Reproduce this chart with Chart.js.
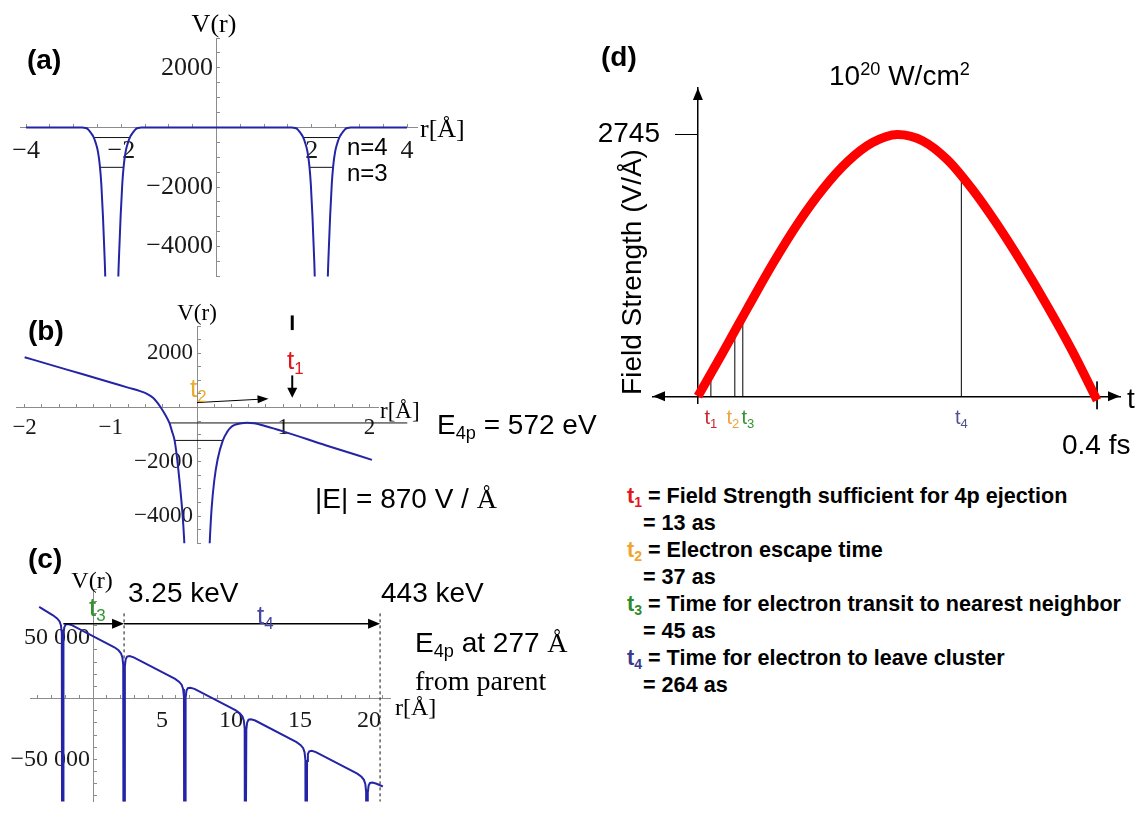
<!DOCTYPE html>
<html>
<head>
<meta charset="utf-8">
<title>Coulomb explosion timescales</title>
<script src="https://cdn.jsdelivr.net/npm/chart.js@4.4.1/dist/chart.umd.min.js"></script>
<style>
  html, body { margin: 0; padding: 0; background: #fff; }
  #page { position: relative; width: 1137px; height: 816px; overflow: hidden; background: #fff; }
  canvas { position: absolute; }
  .tx { position: absolute; white-space: nowrap; line-height: 1; color: #000; }
  .sans { font-family: 'Liberation Sans', Arial, sans-serif; }
  .serif { font-family: 'Liberation Serif', 'Times New Roman', serif; }
  .b { font-weight: bold; }
  sub, sup { line-height: 0; font-size: 0.65em; }
  sub { vertical-align: -0.28em; }
  sup { vertical-align: 0.55em; }
  #notes { position: absolute; left: 627px; top: 482px; font: bold 21.6px 'Liberation Sans', Arial, sans-serif; line-height: 27px; white-space: pre; color: #000; }
  #notes .cont { padding-left: 16px; }
  .c1 { color: #e3161e; } .c2 { color: #efa52c; } .c3 { color: #2c8c2c; } .c4 { color: #3a3a8c; }
</style>
</head>
<body>
<div id="page">
  <canvas id="cA" width="480" height="292" style="left:0;top:0"></canvas>
  <canvas id="cB" width="460" height="262" style="left:0;top:295px"></canvas>
  <canvas id="cC" width="480" height="268" style="left:0;top:548px"></canvas>
  <canvas id="cD" width="547" height="360" style="left:590px;top:60px"></canvas>

  <!-- (a) -->
  <div class="tx sans b" style="left:27px;top:46px;font-size:28px">(a)</div>
  <div class="tx serif" style="left:214px;top:11px;font-size:26px;transform:translateX(-50%)">V(r)</div>
  <div class="tx serif" style="left:420px;top:116px;font-size:26px">r[Å]</div>
  <div class="tx sans" style="left:347px;top:135px;font-size:24px">n=4</div>
  <div class="tx sans" style="left:347px;top:161px;font-size:24px">n=3</div>

  <!-- (b) -->
  <div class="tx sans b" style="left:28px;top:317px;font-size:28px">(b)</div>
  <div class="tx serif" style="left:197px;top:301px;font-size:23px;transform:translateX(-50%)">V(r)</div>
  <div class="tx serif" style="left:380px;top:399px;font-size:23px">r[Å]</div>
  <div class="tx sans" style="left:190px;top:375px;font-size:26px;color:#e6ad35">t<sub>2</sub></div>
  <div class="tx sans" style="left:287px;top:347px;font-size:26px;color:#e3161e">t<sub>1</sub></div>
  <div class="tx sans" style="left:437px;top:411px;font-size:28px">E<sub>4p</sub> = 572 eV</div>
  <div class="tx sans" style="left:315px;top:485px;font-size:28px">|E| = 870 V / <span class="serif">Å</span></div>

  <!-- (c) -->
  <div class="tx sans b" style="left:28px;top:545px;font-size:28px">(c)</div>
  <div class="tx serif" style="left:92px;top:568px;font-size:24px;transform:translateX(-50%)">V(r)</div>
  <div class="tx sans" style="left:89px;top:594px;font-size:26px;color:#2e962e">t<sub>3</sub></div>
  <div class="tx sans" style="left:128px;top:579px;font-size:28px">3.25 keV</div>
  <div class="tx sans" style="left:257px;top:602px;font-size:26px;color:#4646a0">t<sub>4</sub></div>
  <div class="tx sans" style="left:381px;top:579px;font-size:28px">443 keV</div>
  <div class="tx sans" style="left:415px;top:629px;font-size:28px">E<sub>4p</sub> at 277 <span class="serif">Å</span></div>
  <div class="tx serif" style="left:415px;top:667px;font-size:28px">from parent</div>
  <div class="tx serif" style="left:395px;top:695px;font-size:24px">r[Å]</div>

  <!-- (d) -->
  <div class="tx sans b" style="left:601px;top:43px;font-size:28px">(d)</div>
  <div class="tx sans" style="left:829px;top:62px;font-size:28px">10<sup>20</sup> W/cm<sup>2</sup></div>
  <div class="tx sans" style="left:632px;top:272px;font-size:28px;transform:translate(-50%,-50%) rotate(-90deg)">Field Strength (V/Å)</div>
  <div class="tx sans" style="left:1127px;top:385px;font-size:28px">t</div>
  <div class="tx sans" style="left:1062px;top:431px;font-size:28px">0.4 fs</div>
  <div id="dt0" class="tx sans" style="top:407px;font-size:20px;color:#c8282d">t<sub>1</sub></div>
  <div id="dt1" class="tx sans" style="top:407px;font-size:20px;color:#eba43a">t<sub>2</sub></div>
  <div id="dt2" class="tx sans" style="top:407px;font-size:20px;color:#2f942f">t<sub>3</sub></div>
  <div id="dt3" class="tx sans" style="top:407px;font-size:20px;color:#50508e">t<sub>4</sub></div>

  <div id="notes"><div><span class="c1">t<sub>1</sub></span> = Field Strength sufficient for 4p ejection</div><div class="cont">= 13 as</div><div><span class="c2">t<sub>2</sub></span> = Electron escape time</div><div class="cont">= 37 as</div><div><span class="c3">t<sub>3</sub></span> = Time for electron transit to nearest neighbor</div><div class="cont">= 45 as</div><div><span class="c4">t<sub>4</sub></span> = Time for electron to leave cluster</div><div class="cont">= 264 as</div></div>
</div>

<script>
// ---------- (a) two isolated atomic wells, V(r) in eV, r in Å ----------
const aR = [-4.0, -2.82, -2.75, -2.70, -2.64, -2.59, -2.54, -2.49, -2.45, -2.42, -2.385, -2.355, -2.335, -2.32,
            -2.08, -2.065, -2.045, -2.015, -1.98, -1.95, -1.91, -1.86, -1.81, -1.76, -1.70, -1.65, -1.58,
            1.58, 1.65, 1.70, 1.76, 1.81, 1.86, 1.91, 1.95, 1.98, 2.015, 2.045, 2.065, 2.08,
            2.32, 2.335, 2.355, 2.385, 2.42, 2.45, 2.49, 2.54, 2.59, 2.64, 2.70, 2.75, 2.82, 4.0];
const aV = [0, 0, -20, -60, -180, -300, -510, -820, -1300, -1900, -3000, -4200, -5200, -7000,
            -7000, -5200, -4200, -3000, -1900, -1300, -820, -510, -300, -180, -60, -20, 0,
            0, -20, -60, -180, -300, -510, -820, -1300, -1900, -3000, -4200, -5200, -7000,
            -7000, -5200, -4200, -3000, -1900, -1300, -820, -510, -300, -180, -60, -20, 0, 0];
const aWellCentres = [-2.2, 2.2];
const aLevelV = [-340, -1340];          // n=4, n=3
const aLevelHalfWidth = [0.37, 0.25];
const aXMajor = [-4, -2, 2, 4];
const aYMajor = [2000, -2000, -4000];

// ---------- (b) one well in a static field of 870 V/Å ----------
const bR = [-2.0, -1.5, -1.0, -0.8, -0.66, -0.58, -0.51, -0.46, -0.42, -0.37, -0.32, -0.29, -0.26, -0.23, -0.2, -0.17, -0.15, -0.13,
            0.13, 0.15, 0.17, 0.2, 0.24, 0.3, 0.35, 0.4, 0.45, 0.5, 0.58, 0.66, 0.8, 1.0, 1.5, 2.03];
const bV = [1850, 1385, 920, 730, 600, 500, 357, 180, 0, -260, -571, -880, -1214, -1900, -2800, -3850, -4800, -6200,
            -6200, -4800, -3700, -2700, -1900, -1214, -900, -714, -630, -590, -565, -580, -690, -880, -1400, -1930];
const bLevelV = [-571, -1214];          // E4p and the deeper level
const bLevelFrom = [-0.32, -0.26];
const bLevelTo = [2.44, 0.30];
const bXMajor = [-2, -1, 1, 2];
const bYMajor = [2000, -2000, -4000];

// ---------- (c) chain of neighbouring ions along the field ----------
const cR = [-3.9,
            -2.9, -2.6, -2.42, -2.32, -2.26, -2.23, -2.17, -2.14, -2.08, -1.98, -1.8, -1.5,
            1.55, 1.85, 2.03, 2.13, 2.19, 2.22, 2.28, 2.31, 2.37, 2.47, 2.65, 2.95,
            5.95, 6.25, 6.43, 6.53, 6.59, 6.62, 6.68, 6.71, 6.77, 6.87, 7.05, 7.35,
            10.35, 10.65, 10.83, 10.93, 10.99, 11.02, 11.08, 11.11, 11.17, 11.27, 11.45, 11.75,
            14.75, 15.05, 15.23, 15.33, 15.39, 15.42, 15.48, 15.51, 15.57, 15.67, 15.85, 16.15,
            19.15, 19.45, 19.63, 19.73, 19.79, 19.82, 19.88, 19.91, 19.97, 20.07, 20.25, 20.55,
            21.0];
const cV = [75300,
            68410, 65890, 63380, 59990, 53630, -250000, -250000, 52930, 58570, 60780, 61170, 60150,
            42155, 39635, 37120, 33730, 27380, -250000, -250000, 26670, 32320, 34530, 34915, 33895,
            16195, 13675, 11165, 7775, 1420, -250000, -250000, 710, 6355, 8565, 8955, 7935,
            -9765, -12285, -14800, -18190, -24540, -250000, -250000, -25250, -19600, -17390, -17005, -18025,
            -35725, -38245, -40760, -44150, -50500, -250000, -250000, -51210, -45560, -43350, -42965, -43985,
            -61685, -64205, -66720, -70110, -76460, -250000, -250000, -77170, -71520, -69310, -68925, -69945,
            -72200];
const cMarkR = [2.25, 20.8];            // nearest neighbour and cluster edge
const cXMajor = [5, 10, 15, 20];
const cYMajor = [50000, -50000];

// ---------- (d) field strength over the half cycle (t in as, E in V/Å) ----------
const dT = [0, 25, 50, 75, 100, 125, 150, 175, 200, 225, 250, 275, 300, 325, 350, 375, 400];
const dE = [0, 460, 930, 1390, 1810, 2170, 2460, 2660, 2745, 2680, 2480, 2170, 1800, 1390, 950, 480, -40];
const dPeak = 2745;
const markT = [13, 37, 45, 264];        // t1..t4
const markE = [240, 690, 840, 2310];
const markLabelNudge = [0, -2, 5, 0];

// ---------- helpers ----------
const AXIS_GRAY = '#8c8c8c';
const BLUE = '#2424a6';
const serifFont = size => ({ family: "'Liberation Serif', 'Times New Roman', serif", size });
const sansFont = size => ({ family: "'Liberation Sans', Arial, sans-serif", size });
const pts = (xs, ys) => xs.map((x, i) => ({ x, y: ys[i] }));
function tickList(lo, hi, step) {
  const out = [];
  for (let v = lo; v <= hi + 1e-9; v += step) out.push(Math.round(v * 1e4) / 1e4);
  return out;
}
const isMajor = (v, majors) => majors.some(m => Math.abs(m - v) < 1e-6);
const minus = v => (v < 0 ? '\u2212' : '') + Math.abs(v);
const grouped = v => (v < 0 ? '\u2212' : '') + String(Math.abs(v)).replace(/\B(?=(\d{3})+(?!\d))/g, ' ');

function arrowPlugin(list) {
  return {
    id: 'arrows',
    afterDatasetsDraw(chart) {
      const { ctx, scales: { x, y } } = chart;
      ctx.save();
      list.forEach(a => {
        const x1 = x.getPixelForValue(a.from[0]), y1 = y.getPixelForValue(a.from[1]);
        const x2 = x.getPixelForValue(a.to[0]), y2 = y.getPixelForValue(a.to[1]);
        const ang = Math.atan2(y2 - y1, x2 - x1);
        const hl = a.head ? a.head[0] : 0;
        ctx.strokeStyle = ctx.fillStyle = a.color || '#000';
        ctx.lineWidth = a.width || 1;
        ctx.beginPath();
        ctx.moveTo(x1, y1);
        ctx.lineTo(x2 - hl * 0.7 * Math.cos(ang), y2 - hl * 0.7 * Math.sin(ang));
        ctx.stroke();
        if (a.head) {
          const hw = a.head[1];
          const bx = x2 - hl * Math.cos(ang), by = y2 - hl * Math.sin(ang);
          ctx.beginPath();
          ctx.moveTo(x2, y2);
          ctx.lineTo(bx + hw * Math.sin(ang), by - hw * Math.cos(ang));
          ctx.lineTo(bx - hw * Math.sin(ang), by + hw * Math.cos(ang));
          ctx.closePath();
          ctx.fill();
        }
      });
      ctx.restore();
    }
  };
}

function curveSet(data, width, smooth) {
  const ds = { data, borderColor: BLUE, borderWidth: width, pointRadius: 0, tension: 0, xAxisID: 'x', yAxisID: 'y' };
  if (smooth) ds.cubicInterpolationMode = 'monotone';
  return ds;
}
function thinSet(data, extra) {
  return Object.assign({ data, borderColor: '#111', borderWidth: 1, pointRadius: 0, tension: 0, xAxisID: 'x', yAxisID: 'y' }, extra || {});
}

// Mathematica-style axes crossing at the origin
function potentialChart(id, o) {
  return new Chart(document.getElementById(id), {
    type: 'line',
    data: { datasets: o.datasets },
    options: {
      responsive: false, animation: false, events: [],
      layout: { padding: o.pad },
      plugins: { legend: { display: false }, tooltip: { enabled: false } },
      elements: { point: { radius: 0 } },
      scales: {
        x: {
          type: 'linear', min: o.x[0], max: o.x[1], position: { y: 0 },
          border: { color: AXIS_GRAY, width: 1 },
          grid: { drawOnChartArea: false, drawTicks: true, tickLength: -4, color: AXIS_GRAY },
          afterBuildTicks: s => { s.ticks = o.xTicks.map(v => ({ value: v })); },
          ticks: { autoSkip: false, maxRotation: 0, padding: o.xPad, font: serifFont(o.font), color: '#1a1a1a',
                   callback: v => isMajor(v, o.xMajor) ? minus(v) : '' }
        },
        y: {
          type: 'linear', min: o.y[0], max: o.y[1], position: { x: 0 },
          border: { color: AXIS_GRAY, width: 1 },
          grid: { drawOnChartArea: false, drawTicks: true, tickLength: -4, color: AXIS_GRAY },
          afterBuildTicks: s => { s.ticks = o.yTicks.map(v => ({ value: v })); },
          ticks: { display: false }
        },
        yl: {
          type: 'linear', min: o.y[0], max: o.y[1], position: { x: o.labelX },
          border: { display: false }, grid: { display: false, drawTicks: false },
          afterBuildTicks: s => { s.ticks = o.yMajor.map(v => ({ value: v })); },
          ticks: { autoSkip: false, padding: 0, font: serifFont(o.font), color: '#1a1a1a', callback: o.fmtY }
        }
      }
    },
    plugins: [arrowPlugin(o.arrows || [])]
  });
}

// ---------- (a) ----------
const aSets = [curveSet(pts(aR, aV), 2, true)];
aLevelV.forEach((v, i) => aWellCentres.forEach(c => {
  aSets.push(thinSet([{ x: c - aLevelHalfWidth[i], y: v }, { x: c + aLevelHalfWidth[i], y: v }]));
}));
potentialChart('cA', {
  datasets: aSets, pad: { left: 17, top: 38, right: 63, bottom: 6 },
  x: [-4.125, 4.21], y: [-5000, 3000], font: 26, xPad: 12, labelX: -0.075,
  xTicks: tickList(-4, 4, 0.5).filter(v => v !== 0), xMajor: aXMajor,
  yTicks: tickList(-5000, 3000, 500).filter(v => v !== 0), yMajor: aYMajor, fmtY: minus
});

// ---------- (b) ----------
const bSets = [curveSet(pts(bR, bV), 2, true)];
bLevelV.forEach((v, i) => bSets.push(thinSet([{ x: bLevelFrom[i], y: v }, { x: bLevelTo[i], y: v }], { clip: false })));
potentialChart('cB', {
  datasets: bSets, pad: { left: 16, top: 31, right: 82, bottom: 7 },
  x: [-2.1, 2.1], y: [-5000, 3000], font: 23, xPad: 11, labelX: -0.047,
  xTicks: tickList(-2, 2, 0.2).filter(v => v !== 0), xMajor: bXMajor,
  yTicks: tickList(-5000, 3000, 500).filter(v => v !== 0), yMajor: bYMajor, fmtY: minus,
  arrows: [
    { from: [0, 180], to: [0.83, 320], width: 1, head: [11, 4] },       // t2: escape
    { from: [1.105, 1180], to: [1.105, 357], width: 2, head: [10, 5] },  // t1
    { from: [1.105, 3390], to: [1.105, 2850], width: 3 }
  ]
});

// ---------- (c) ----------
const cSets = [curveSet(pts(cR, cV), 2, false)];
cMarkR.forEach(r => cSets.push(thinSet([{ x: r, y: 70000 }, { x: r, y: -90000 }], { borderDash: [3, 3] })));
potentialChart('cC', {
  datasets: cSets, pad: { left: 30, top: 41, right: 90, bottom: 0 },
  x: [-4.565, 21.52], y: [-84615, 90000], font: 24, xPad: 12, labelX: -0.22,
  xTicks: tickList(-4, 21, 1).filter(v => v !== 0), xMajor: cXMajor,
  yTicks: tickList(-80000, 90000, 10000).filter(v => v !== 0), yMajor: cYMajor, fmtY: grouped,
  arrows: [
    { from: [-2.15, 61500], to: [cMarkR[0], 61500], width: 1.5, head: [12, 5] },   // t3
    { from: [cMarkR[0], 61500], to: [cMarkR[1], 61500], width: 1.5, head: [12, 5] } // t4
  ]
});

// ---------- (d) ----------
const dCanvasLeft = 590;
const axisArrows = {
  id: 'axisArrows',
  afterDraw(chart) {
    const { ctx, chartArea: ca, scales: { x, y } } = chart;
    const x0 = x.getPixelForValue(0), y0 = y.getPixelForValue(0);
    const tri = (px, py, dx, dy) => {
      const L = 12, W = 5;
      ctx.beginPath();
      ctx.moveTo(px, py);
      ctx.lineTo(px - dx * L + dy * W, py - dy * L + dx * W);
      ctx.lineTo(px - dx * L - dy * W, py - dy * L - dx * W);
      ctx.closePath();
      ctx.fill();
    };
    ctx.save();
    ctx.fillStyle = '#000';
    tri(x0, ca.top, 0, -1);
    tri(ca.left, y0, -1, 0);
    tri(ca.right, y0, 1, 0);
    ctx.restore();
    markT.forEach((t, i) => {
      const el = document.getElementById('dt' + i);
      el.style.left = (dCanvasLeft + x.getPixelForValue(t) + markLabelNudge[i]) + 'px';
      el.style.transform = 'translateX(-50%)';
    });
  }
};
const dSets = [
  { data: pts(dT, dE), borderColor: '#ff0000', borderWidth: 9, cubicInterpolationMode: 'monotone', pointRadius: 0, borderCapStyle: 'butt', order: 0 }
];
markT.forEach((t, i) => dSets.push(thinSet([{ x: t, y: 0 }, { x: t, y: markE[i] }], { borderColor: '#000', order: 1 })));
dSets.push(thinSet([{ x: dT[dT.length - 1], y: 155 }, { x: dT[dT.length - 1], y: -135 }], { borderColor: '#000', clip: false }));

new Chart(document.getElementById('cD'), {
  type: 'line',
  data: { datasets: dSets },
  options: {
    responsive: false, animation: false, events: [],
    layout: { padding: { left: 63, top: 28, right: 17, bottom: 13 } },
    plugins: { legend: { display: false }, tooltip: { enabled: false } },
    elements: { point: { radius: 0 } },
    scales: {
      x: { type: 'linear', min: -45, max: 423, position: { y: 0 },
           border: { color: '#000', width: 1.5 }, grid: { display: false }, ticks: { display: false } },
      y: { type: 'linear', min: -72, max: 3232, position: { x: 0 },
           border: { color: '#000', width: 1.5 },
           grid: { drawOnChartArea: false, drawTicks: true, tickLength: 22, color: '#000', lineWidth: 1 },
           afterBuildTicks: s => { s.ticks = [{ value: dPeak }]; }, ticks: { display: false } },
      yl: { type: 'linear', min: -72, max: 3232, position: { x: -38 },
            border: { display: false }, grid: { display: false, drawTicks: false },
            afterBuildTicks: s => { s.ticks = [{ value: dPeak }]; },
            ticks: { padding: 0, font: sansFont(28), color: '#000', callback: v => String(v) } }
    }
  },
  plugins: [axisArrows]
});
</script>
</body>
</html>
